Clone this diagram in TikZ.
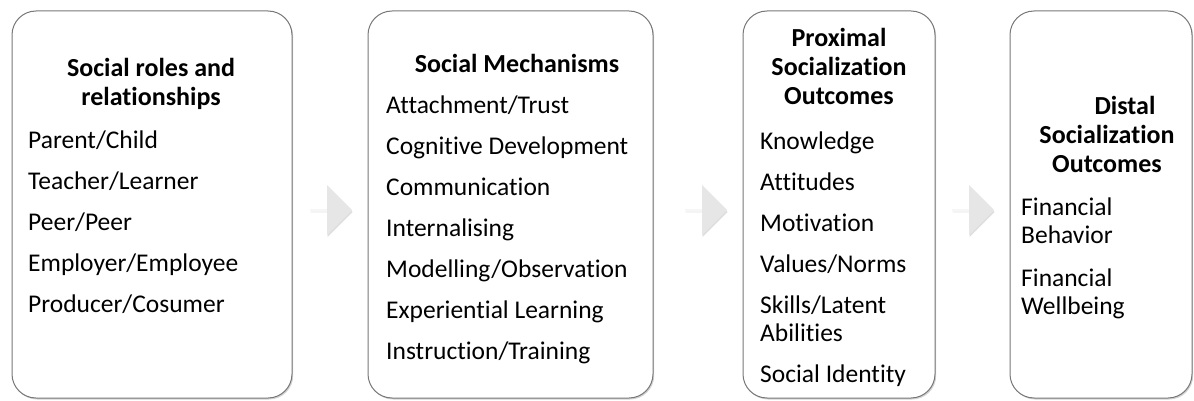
\documentclass[tikz,border=0pt]{standalone}
\usepackage{fontspec}
\setmainfont{Carlito}[Ligatures=NoCommon]
\usepackage{tikz}
\usetikzlibrary{shapes.arrows, shadows, positioning}
\definecolor{myline}{RGB}{120,120,120}
\definecolor{myarrow}{RGB}{230,230,230}
\tikzset{
  box/.style={rectangle, draw=myline, fill=white, line width=1pt,
    rounded corners=24pt, inner sep=0pt,
    drop shadow={shadow xshift=1.2pt, shadow yshift=-1.5pt, opacity=0.35}},
  head/.style={align=center, inner sep=0pt,
    font=\fontsize{26}{29}\selectfont\bfseries},
  items/.style={align=left, inner sep=0pt,
    font=\fontsize{25.5}{28}\selectfont},
  flow/.style={single arrow, draw=none, fill=myarrow, inner sep=0pt,
    minimum height=42pt, minimum width=50pt,
    single arrow head extend=11.5pt, single arrow head indent=0pt,
    drop shadow={shadow xshift=0.5pt, shadow yshift=-2pt, opacity=0.25}}
}

\begin{document}
\begin{tikzpicture}[x=1pt, y=-1pt]
  \useasboundingbox (0,0) rectangle (1194,401);

  % Boxes
  \node[box, minimum width=280pt, minimum height=387pt] (roles) at (152,204.5) {};
  \node[box, minimum width=285pt, minimum height=387pt] (mech) at (510.5,204.5) {};
  \node[box, minimum width=192pt, minimum height=387pt] (prox) at (839,204.5) {};
  \node[box, minimum width=182pt, minimum height=387pt] (dist) at (1101,204.5) {};

  % Arrows
  \node[flow] (a1) at (331,210) {};
  \node[flow] (a2) at (706,210) {};
  \node[flow] (a3) at (973,210) {};

  % Headings (base = last line)
  \node[head, anchor=base] (rolesh) at (151,106) {Social roles and\\relationships};
  \node[head, anchor=base] (mechh) at (517,73) {Social Mechanisms};
  \node[head, anchor=base] (proxh) at (839,105) {Proximal\\Socialization\\Outcomes};
  \node[head, anchor=base] (disth) at (1107,172) {\hspace*{36pt}Distal\\Socialization\\Outcomes};

  % Items (base = last line)
  \node[items, anchor=base west] (rolesi) at (28,312) {Parent/Child\\[13pt]Teacher/Learner\\[13pt]Peer/Peer\\[13pt]Employer/Employee\\[13pt]Producer/Cosumer};
  \node[items, anchor=base west] (mechi) at (386,359) {Attachment/Trust\\[13pt]Cognitive Development\\[13pt]Communication\\[13pt]Internalising\\[13pt]Modelling/Observation\\[13pt]Experiential Learning\\[13pt]Instruction/Training};
  \node[items, anchor=base west] (proxi) at (760,382) {Knowledge\\[13pt]Attitudes\\[13pt]Motivation\\[13pt]Values/Norms\\[13pt]Skills/Latent\\Abilities\\[13pt]Social Identity};
  \node[items, anchor=base west] (disti) at (1021,314) {Financial\\Behavior\\[15pt]Financial\\Wellbeing};

\end{tikzpicture}
\end{document}
